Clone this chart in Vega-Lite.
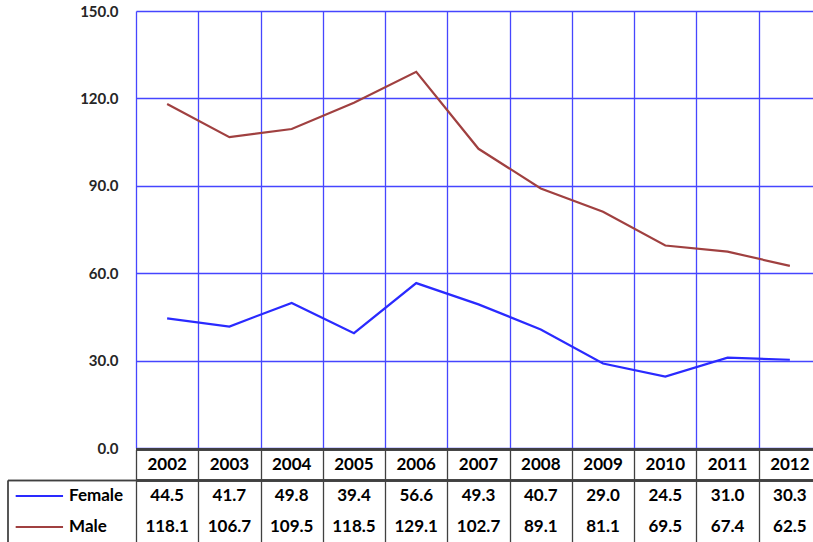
{
  "$schema": "https://vega.github.io/schema/vega-lite/v6.json",
  "background": "#ffffff",
  "padding": {"left": 0, "top": 4, "right": 0, "bottom": 0},
  "spacing": -7.5,
  "align": "none",
  "config": {
    "view": {"stroke": null},
    "font": "Lato",
    "text": {"font": "Lato", "fontWeight": "bold", "fontSize": 17, "color": "#000000"}
  },
  "datasets": {
    "rates": [
      {"year": "2002", "Female": 44.5, "Male": 118.1},
      {"year": "2003", "Female": 41.7, "Male": 106.7},
      {"year": "2004", "Female": 49.8, "Male": 109.5},
      {"year": "2005", "Female": 39.4, "Male": 118.5},
      {"year": "2006", "Female": 56.6, "Male": 129.1},
      {"year": "2007", "Female": 49.3, "Male": 102.7},
      {"year": "2008", "Female": 40.7, "Male": 89.1},
      {"year": "2009", "Female": 29.0, "Male": 81.1},
      {"year": "2010", "Female": 24.5, "Male": 69.5},
      {"year": "2011", "Female": 31.0, "Male": 67.4},
      {"year": "2012", "Female": 30.3, "Male": 62.5}
    ],
    "series": [{"series": "Female"}, {"series": "Male"}]
  },
  "vconcat": [
    {
      "width": 685,
      "height": 437,
      "data": {"name": "rates"},
      "transform": [{"fold": ["Female", "Male"], "as": ["series", "value"]}],
      "mark": {"type": "line", "strokeWidth": 2.2},
      "encoding": {
        "x": {
          "field": "year",
          "type": "ordinal",
          "scale": {"type": "band", "paddingInner": 0, "paddingOuter": 0},
          "axis": {
            "title": null,
            "labels": false,
            "ticks": false,
            "domain": false,
            "grid": true,
            "tickBand": "extent",
            "gridColor": "#4646ff",
            "gridWidth": 1.3,
            "gridOpacity": 1
          }
        },
        "y": {
          "field": "value",
          "type": "quantitative",
          "scale": {"domain": [0, 150], "nice": false},
          "axis": {
            "title": null,
            "values": [0, 30, 60, 90, 120, 150],
            "format": ".1f",
            "ticks": false,
            "domain": false,
            "labelPadding": 18,
            "labelFont": "Lato",
            "labelFontWeight": "bold",
            "labelFontSize": 15,
            "labelColor": "#262626",
            "gridColor": "#4646ff",
            "gridWidth": 1.3,
            "gridOpacity": 1,
            "minExtent": 136,
            "maxExtent": 136
          }
        },
        "color": {
          "field": "series",
          "type": "nominal",
          "scale": {"domain": ["Female", "Male"], "range": ["#2a2aff", "#a04040"]},
          "legend": null
        }
      }
    },
    {
      "width": 685,
      "height": 93,
      "resolve": {"scale": {"x": "independent"}, "axis": {"x": "independent"}},
      "layer": [
        {
          "data": {"name": "rates"},
          "layer": [
            {
              "mark": {"type": "rule", "color": "#404040", "strokeWidth": 1.3},
              "encoding": {
                "y": {
                  "datum": "Year",
                  "type": "nominal",
                  "bandPosition": 0,
                  "scale": {"type": "band", "domain": ["Year", "Female", "Male"], "paddingInner": 0, "paddingOuter": 0},
                  "axis": null
                }
              }
            },
            {
              "mark": {"type": "rule", "color": "#404040", "strokeWidth": 1.3},
              "encoding": {
                "y": {"datum": "Year", "type": "nominal", "bandPosition": 1}
              }
            },
            {
              "mark": {"type": "text", "baseline": "middle"},
              "encoding": {
                "x": {
                  "field": "year",
                  "type": "ordinal",
                  "scale": {"type": "band", "paddingInner": 0, "paddingOuter": 0},
                  "axis": {
                    "title": null,
                    "labels": false,
                    "ticks": false,
                    "domain": false,
                    "grid": true,
                    "tickBand": "extent",
                    "gridColor": "#404040",
                    "gridWidth": 1.3,
                    "gridOpacity": 1
                  }
                },
                "y": {"datum": "Year", "type": "nominal"},
                "text": {"field": "year"}
              }
            },
            {
              "transform": [{"fold": ["Female", "Male"], "as": ["series", "value"]}],
              "mark": {"type": "text", "baseline": "middle"},
              "encoding": {
                "x": {"field": "year", "type": "ordinal"},
                "y": {"field": "series", "type": "nominal"},
                "text": {"field": "value", "type": "quantitative", "format": ".1f"}
              }
            }
          ]
        },
        {
          "data": {"name": "series"},
          "layer": [
            {
              "mark": {"type": "rule", "color": "#404040", "strokeWidth": 1.3},
              "encoding": {
                "x": {"datum": 0, "type": "quantitative", "scale": {"domain": [0, 1], "range": [-128, 0], "nice": false}, "axis": null},
                "x2": {"datum": 1},
                "y": {"datum": "Year", "type": "nominal", "bandPosition": 1}
              }
            },
            {
              "mark": {"type": "rule", "color": "#404040", "strokeWidth": 1.3},
              "encoding": {
                "x": {"datum": 0, "type": "quantitative"},
                "y": {"datum": "Female", "type": "nominal", "bandPosition": 0},
                "y2": {"datum": "Male", "bandPosition": 1}
              }
            },
            {
              "mark": {"type": "rule", "strokeWidth": 2.2},
              "encoding": {
                "x": {"datum": 0.06, "type": "quantitative"},
                "x2": {"datum": 0.43},
                "y": {"field": "series", "type": "nominal"},
                "color": {
                  "field": "series",
                  "type": "nominal",
                  "scale": {"domain": ["Female", "Male"], "range": ["#2a2aff", "#a04040"]},
                  "legend": null
                }
              }
            },
            {
              "mark": {"type": "text", "align": "left", "baseline": "middle"},
              "encoding": {
                "x": {"datum": 0.477, "type": "quantitative"},
                "y": {"field": "series", "type": "nominal"},
                "text": {"field": "series"}
              }
            }
          ]
        }
      ]
    }
  ]
}
